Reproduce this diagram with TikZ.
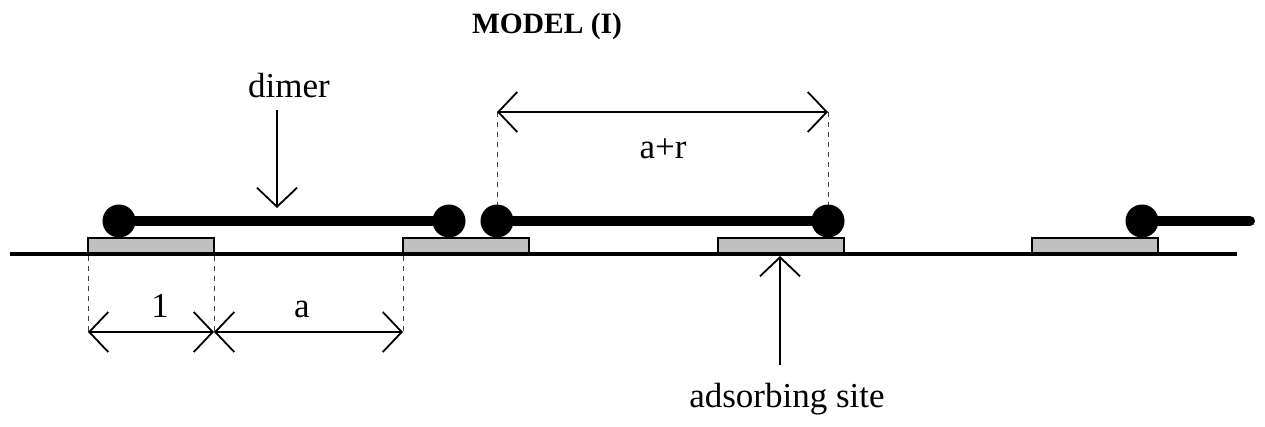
\documentclass[tikz,border=0pt]{standalone}
\usepackage{fontspec}
\setmainfont{Liberation Serif}
\usetikzlibrary{arrows.meta}
\definecolor{sitegray}{RGB}{192,192,192}
\begin{document}
\begin{tikzpicture}[x=1pt,y=-1pt,
  site/.style={draw=black,line width=1.8pt,fill=sitegray},
  rod/.style={line width=10pt},
  ball/.style={circle,fill=black,inner sep=0pt,minimum size=33pt},
  ground/.style={line width=4.5pt},
  tip/.style={Straight Barb[length=19pt,width=40pt]},
  dimline/.style={line width=1.8pt,{Straight Barb[length=19pt,width=40pt]}-{Straight Barb[length=19pt,width=40pt]}},
  pointer/.style={line width=1.8pt,-{Straight Barb[length=19pt,width=40pt]}},
  guide/.style={line width=0.8pt,dash pattern=on 5pt off 5pt,black!75},
  lbl/.style={font=\fontsize{35}{40}\selectfont,anchor=base,inner sep=0pt},
  ttl/.style={font=\fontsize{29.5}{34}\selectfont\bfseries,anchor=base,inner sep=0pt}]
\useasboundingbox (0,0) rectangle (1265,426);
% ground line
\coordinate (gL) at (10,254);
\coordinate (gR) at (1237,254);
\draw[ground] (gL) -- (gR);
% adsorbing sites
\foreach \i/\x in {1/88,2/403,3/718,4/1032}{
  \draw[site] (\x,253) rectangle ++(126,-15);
}
% dimers
\coordinate (d1a) at (119,221);
\coordinate (d1b) at (449,221);
\coordinate (d2a) at (497,221);
\coordinate (d2b) at (828,221);
\coordinate (d3a) at (1142,221);
\coordinate (d3b) at (1250,221);
\draw[rod] (d1a) -- (d1b);
\draw[rod] (d2a) -- (d2b);
\draw[rod,line cap=round] (d3a) -- (d3b);
\node[ball] (b1) at (d1a) {};
\node[ball] (b2) at (d1b) {};
\node[ball] (b3) at (d2a) {};
\node[ball] (b4) at (d2b) {};
\node[ball] (b5) at (d3a) {};
% title
\node[ttl] (title) at (547,33) {MODEL (I)};
% dimer label and arrow
\node[lbl] (dimer) at (289,97) {dimer};
\coordinate (dimS) at (277,110);
\coordinate (dimE) at (277,208);
\draw[pointer] (dimS) -- (dimE);
% a+r dimension
\coordinate (arL) at (497,112);
\coordinate (arR) at (828,112);
\draw[guide] (arL) -- (497,205);
\draw[guide] (arR) -- (828,205);
\draw[dimline] (arL) -- (arR);
\node[lbl] (ar) at (663,158) {a+r};
% 1 and a dimensions
\coordinate (dA) at (88,332);
\coordinate (dB) at (214,332);
\coordinate (dC) at (403,332);
\draw[guide] (88,256) -- (dA);
\draw[guide] (214,256) -- (dB);
\draw[guide] (403,256) -- (dC);
\draw[dimline] (dA) -- (dB);
\draw[dimline] (dB) -- (dC);
\node[lbl] (one) at (160,317) {1};
\node[lbl] (a) at (302,317) {a};
% adsorbing site pointer
\coordinate (adS) at (780,365);
\coordinate (adE) at (780,256);
\draw[pointer] (adS) -- (adE);
\node[lbl] (ads) at (787,407) {adsorbing site};
\end{tikzpicture}
\end{document}
